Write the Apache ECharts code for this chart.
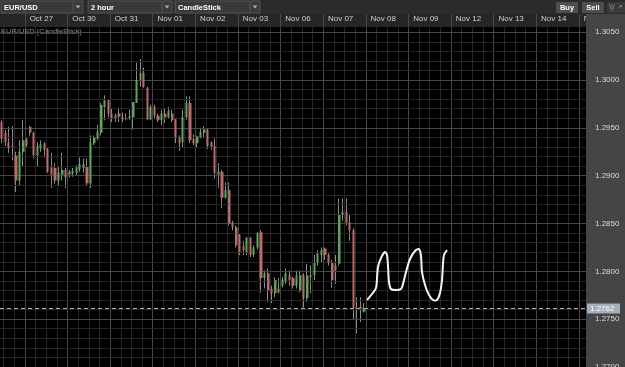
<!DOCTYPE html>
<html><head><meta charset="utf-8">
<script src="https://cdn.jsdelivr.net/npm/echarts@6/dist/echarts.min.js"></script>
<style>html,body{margin:0;padding:0;background:#000;}#c{width:625px;height:367px;}</style>
</head><body><div id="c"></div>
<script>
// ---- data ----
const dayNames = ['Oct 26','Oct 27','Oct 30','Oct 31','Nov 01','Nov 02','Nov 03','Nov 06','Nov 07','Nov 08','Nov 09','Nov 12','Nov 13','Nov 14','Nov 15'];
const hourLabels = ['00:00','02:00','04:00','06:00','08:00','10:00','12:00','14:00','16:00','18:00','20:00','22:00'];
const firstDayFrom = 5;   // first visible slot of the first day
const lastDayUntil = 2;   // visible slots of the last day
const yTickLabels = ['1.2700','1.2750','1.2800','1.2850','1.2900','1.2950','1.3000','1.3050'];
const lastPrice = 1.2762;

const opens  = [1.2956,1.2945,1.2935,1.2931,1.2921,1.2895,1.2925,1.2938,1.2951,1.2945,1.2921,1.2929,1.2934,1.2928,1.2909,1.2908,1.2895,1.2901,1.2906,1.2901,1.2902,1.2903,1.2907,1.2908,1.2909,1.2892,1.2934,1.2939,1.2945,1.2972,1.2979,1.2965,1.2960,1.2965,1.2961,1.2960,1.2960,1.2961,1.2976,1.3000,1.3007,1.2992,1.2959,1.2972,1.2963,1.2958,1.2965,1.2961,1.2965,1.2959,1.2940,1.2935,1.2961,1.2976,1.2938,1.2934,1.2940,1.2945,1.2948,1.2935,1.2931,1.2901,1.2904,1.2877,1.2885,1.2851,1.2846,1.2838,1.2826,1.2820,1.2835,1.2817,1.2825,1.2841,1.2793,1.2798,1.2782,1.2777,1.2782,1.2785,1.2789,1.2796,1.2793,1.2785,1.2780,1.2796,1.2772,1.2796,1.2796,1.2809,1.2817,1.2824,1.2817,1.2809,1.2806,1.2808,1.2859,1.2862,1.2851,1.2843,1.2762,1.2763,1.2758];
const closes = [1.2939,1.2935,1.2929,1.2930,1.2895,1.2925,1.2937,1.2932,1.2945,1.2921,1.2931,1.2933,1.2927,1.2904,1.2901,1.2895,1.2903,1.2906,1.2898,1.2904,1.2905,1.2909,1.2912,1.2912,1.2892,1.2934,1.2940,1.2946,1.2974,1.2979,1.2965,1.2960,1.2963,1.2962,1.2959,1.2959,1.2962,1.2977,1.3000,1.3007,1.2993,1.2959,1.2972,1.2963,1.2958,1.2965,1.2961,1.2968,1.2958,1.2940,1.2934,1.2961,1.2976,1.2937,1.2934,1.2941,1.2946,1.2948,1.2931,1.2930,1.2903,1.2904,1.2877,1.2885,1.2850,1.2846,1.2827,1.2820,1.2822,1.2835,1.2817,1.2825,1.2840,1.2793,1.2798,1.2780,1.2777,1.2791,1.2778,1.2791,1.2798,1.2791,1.2785,1.2796,1.2796,1.2772,1.2796,1.2794,1.2809,1.2819,1.2822,1.2817,1.2809,1.2791,1.2801,1.2859,1.2862,1.2851,1.2843,1.2762,1.2761,1.2761,1.2762];
const lows   = [1.2934,1.2931,1.2924,1.2916,1.2883,1.2890,1.2909,1.2930,1.2942,1.2918,1.2909,1.2925,1.2919,1.2903,1.2887,1.2892,1.2890,1.2895,1.2887,1.2898,1.2899,1.2901,1.2904,1.2903,1.2890,1.2887,1.2932,1.2937,1.2942,1.2958,1.2961,1.2956,1.2956,1.2956,1.2956,1.2958,1.2958,1.2948,1.2976,1.2993,1.2992,1.2958,1.2958,1.2959,1.2956,1.2953,1.2955,1.2960,1.2956,1.2934,1.2926,1.2930,1.2958,1.2934,1.2932,1.2930,1.2939,1.2940,1.2928,1.2927,1.2897,1.2887,1.2866,1.2876,1.2848,1.2843,1.2825,1.2817,1.2817,1.2817,1.2815,1.2815,1.2823,1.2778,1.2782,1.2768,1.2767,1.2773,1.2777,1.2783,1.2787,1.2785,1.2782,1.2782,1.2778,1.2762,1.2768,1.2777,1.2791,1.2806,1.2809,1.2812,1.2806,1.2783,1.2787,1.2806,1.2853,1.2848,1.2832,1.2749,1.2735,1.2747,1.2757];
const highs  = [1.2958,1.2948,1.2951,1.2952,1.2925,1.2937,1.2958,1.2940,1.2952,1.2946,1.2935,1.2937,1.2935,1.2929,1.2924,1.2913,1.2909,1.2924,1.2908,1.2906,1.2908,1.2911,1.2919,1.2918,1.2918,1.2942,1.2942,1.2953,1.2976,1.2984,1.2980,1.2971,1.2965,1.2971,1.2966,1.2965,1.2969,1.2977,1.3018,1.3022,1.3013,1.2993,1.2974,1.2974,1.2965,1.2969,1.2970,1.2972,1.2969,1.2960,1.2942,1.2969,1.2983,1.2983,1.2943,1.2942,1.2950,1.2952,1.2949,1.2936,1.2939,1.2913,1.2906,1.2893,1.2893,1.2853,1.2848,1.2840,1.2832,1.2836,1.2836,1.2827,1.2841,1.2843,1.2801,1.2803,1.2785,1.2794,1.2793,1.2794,1.2803,1.2801,1.2794,1.2801,1.2801,1.2798,1.2808,1.2806,1.2817,1.2822,1.2825,1.2825,1.2819,1.2812,1.2817,1.2876,1.2876,1.2876,1.2859,1.2845,1.2773,1.2773,1.2767];

// ---- build ----
const categories = [];
dayNames.forEach((d, di) => {
  hourLabels.forEach((h, hi) => {
    if (di === 0 && hi < firstDayFrom) return;
    if (di === dayNames.length - 1 && hi >= lastDayUntil) return;
    categories.push(d + ' ' + h);
  });
});
const candles = opens.map((o, i) => [o, closes[i], lows[i], highs[i]]);
const isDayStart = (idx, v) => String(v).endsWith(' 00:00');
const isMinor = (idx, v) => (idx % 3 === 1) && !isDayStart(idx, v);

const FONT = 'Liberation Sans, Arial, sans-serif';
const MAJ = '#474747', MIN = '#262626';

const squiggle = [[367,300],[372,294],[376,288],[377,278],[378,267],[381,258],[385,252],[387,255],[388,266],[389,282],[391,289],[396,290],[401,289],[403,284],[406,272],[410,259],[415,251],[419,249],[421,256],[422,272],[425,285],[429,295],[433,300],[437,300],[440,293],[442,280],[443,264],[444,255],[447,250]];

function dropdown(x, w, label) {
  return [
    {type:'rect', z:1, shape:{x:x, y:1, width:w, height:12}, style:{fill:'#3a3a3a', stroke:'#555', lineWidth:1}},
    {type:'line', z:1, shape:{x1:x+w-10, y1:1, x2:x+w-10, y2:13}, style:{stroke:'#555', lineWidth:1}},
    {type:'polygon', z:1, shape:{points:[[x+w-7.5,5.5],[x+w-2.5,5.5],[x+w-5,8.5]]}, style:{fill:'#aaa'}},
    {type:'text', z:1, x:x+3, y:7.5, style:{text:label, fill:'#fff', font:'bold 7.5px ' + FONT, verticalAlign:'middle'}}
  ];
}

const baseGraphic = [
  {type:'rect', z:1, shape:{x:0, y:0, width:625, height:14}, style:{fill:'#2b2b2b'}},
  {type:'rect', z:1, shape:{x:0, y:14, width:625, height:12}, style:{fill:'#262626'}},
  ...dropdown(1, 82, 'EUR/USD'),
  ...dropdown(88, 84, '2 hour'),
  ...dropdown(175, 85, 'CandleStick'),
  {type:'rect', z:1, shape:{x:556, y:2, width:22, height:11}, style:{fill:'#4e4e4e'}},
  {type:'text', z:1, x:567, y:7.5, style:{text:'Buy', fill:'#fff', font:'bold 7.5px ' + FONT, align:'center', verticalAlign:'middle'}},
  {type:'rect', z:1, shape:{x:582, y:2, width:22, height:11}, style:{fill:'#4e4e4e'}},
  {type:'text', z:1, x:593, y:7.5, style:{text:'Sell', fill:'#fff', font:'bold 7.5px ' + FONT, align:'center', verticalAlign:'middle'}},
  {type:'rect', z:1, shape:{x:607, y:2, width:18, height:11}, style:{fill:'#3a3a3a'}},
  {type:'text', z:1, x:609, y:7.5, style:{text:'\\|/ \u2197', fill:'#999', font:'7px ' + FONT, verticalAlign:'middle'}},
  {type:'rect', z:10, shape:{x:586, y:14, width:39, height:353}, style:{fill:'#454545'}},
  {type:'polyline', z:13, shape:{points:squiggle, smooth:0.3}, style:{stroke:'#f4f4f4', lineWidth:2, fill:null}}
];

const chart = echarts.init(document.getElementById('c'), null, {renderer:'canvas'});
chart.setOption({
  animation: false,
  backgroundColor: '#000',
  title: {text:'EUR/USD (CandleStick)', left:1, top:28, padding:0,
          textStyle:{color:'#8a8a8a', fontSize:7.5, fontWeight:'normal', fontFamily:FONT}},
  grid: {left:0, right:39, top:26, bottom:0, containLabel:false, outerBoundsMode:'none'},
  xAxis: [
    {type:'category', data:categories, position:'top', boundaryGap:true, z:2,
     axisLine:{show:false},
     axisTick:{show:true, interval:isDayStart, length:12, lineStyle:{color:'#4a4a4a'}},
     axisLabel:{interval:isDayStart, formatter:v => v.slice(0,6), color:'#d0d0d0', fontSize:8,
                fontFamily:FONT, align:'left', margin:3, padding:[0,0,0,3]},
     splitLine:{show:true, interval:isDayStart, lineStyle:{color:MAJ, width:1}}},
    {type:'category', data:categories, position:'bottom', boundaryGap:true, z:2,
     axisLine:{show:false}, axisTick:{show:false}, axisLabel:{show:false},
     splitLine:{show:true, interval:isMinor, lineStyle:{color:MIN, width:1}}}
  ],
  yAxis: {type:'value', position:'right', min:1.27, max:1.30565, interval:0.001, z:11,
    axisLine:{show:false}, axisTick:{show:false},
    axisLabel:{color:'#dcdcdc', fontSize:8, fontFamily:FONT, margin:9, showMaxLabel:false,
      formatter: v => yTickLabels.includes(v.toFixed(4)) ? v.toFixed(4) : ''},
    splitLine:{show:true, lineStyle:{color:[MAJ, MIN, MIN, MIN, MIN], width:1}}},
  graphic: baseGraphic,
  series: [
    {type:'candlestick', name:'wick', data:candles, barWidth:1, z:3,
     itemStyle:{color:'#8c8c8c', color0:'#8c8c8c', borderColor:'#8c8c8c', borderColor0:'#8c8c8c', borderWidth:1}},
    {type:'candlestick', name:'EUR/USD', data:candles, barWidth:2.6, z:12,
     itemStyle:{color:'#58a858', color0:'#b96a6a', borderColor:'#58a858', borderColor0:'#b96a6a', borderWidth:0}}
  ]
});

// last-price line, positioned through the chart's own y scale
const py = Math.round(chart.convertToPixel({yAxisIndex:0}, lastPrice)) + 0.5;
chart.setOption({graphic: baseGraphic.concat([
  {type:'line', z:12, shape:{x1:0, y1:py, x2:586, y2:py}, style:{stroke:'#b4b4b4', lineWidth:1, lineDash:[4,3]}},
  {type:'rect', z:12, shape:{x:587, y:py-5, width:33, height:10}, style:{fill:'#a3afbb'}},
  {type:'text', z:12, x:590, y:py, style:{text:lastPrice.toFixed(4), fill:'#fff', font:'8px ' + FONT, verticalAlign:'middle'}}
])});
</script></body></html>
